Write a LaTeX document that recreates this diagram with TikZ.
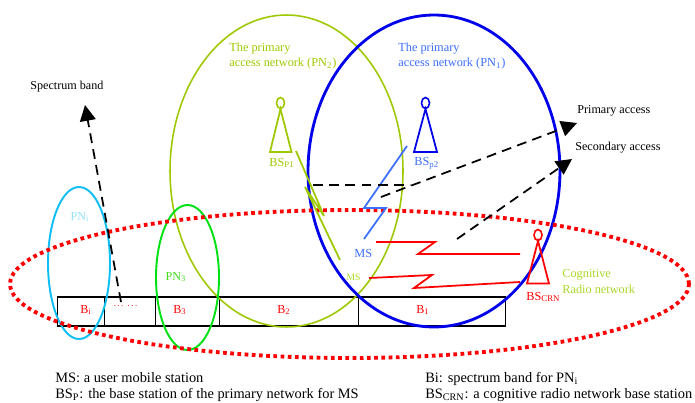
\documentclass[tikz,border=0pt]{standalone}
\usepackage{fontspec}
\setmainfont{Liberation Serif}
\usepackage{tikz}
\usetikzlibrary{arrows.meta, positioning, shapes.geometric}

\definecolor{olivenet}{RGB}{158,200,0}
\definecolor{bluenet}{RGB}{0,0,235}
\definecolor{skybolt}{RGB}{60,110,255}
\definecolor{cyannet}{RGB}{15,190,245}
\definecolor{greennet}{RGB}{0,225,20}
\definecolor{cogtext}{RGB}{170,215,40}

\begin{document}
\begin{tikzpicture}[
  x=0.02cm, y=-0.02cm,
  net/.style={ellipse, draw, inner sep=0pt, line width=1.1pt},
  cell/.style={rectangle, draw, line width=0.8pt, inner sep=0pt, minimum height=0.58cm},
  txt/.style={font=\fontsize{7}{8.8}\selectfont, inner sep=0pt, anchor=west},
  legend/.style={font=\fontsize{8.2}{9.2}\selectfont, inner sep=0pt, anchor=west},
  small/.style={font=\fontsize{6.9}{8}\selectfont, inner sep=0pt, anchor=west},
  access/.style={line width=1pt, dash pattern=on 5.6pt off 3.6pt},
  head/.style={access, -{Triangle[length=9pt, width=9pt]}},
  bolt/.style={line width=1pt},
  lamp/.style={ellipse, draw, line width=0.9pt, inner sep=0pt, minimum width=0.16cm, minimum height=0.22cm}
]
  \useasboundingbox (0,0) rectangle (695,402);

  % Spectrum band
  \node[cell, minimum width=0.94cm, anchor=west] (bi) at (57,311.5) {};
  \node[cell, minimum width=1.02cm, anchor=west] (bdots) at (104,311.5) {};
  \node[cell, minimum width=1.28cm, anchor=west] (b3) at (155,311.5) {};
  \node[cell, minimum width=2.78cm, anchor=west] (b2) at (219,311.5) {};
  \node[cell, minimum width=2.94cm, anchor=west] (b1) at (358,311.5) {};
  \node[small, red, anchor=center] (bilbl) at (86,310) {B\textsubscript{i}};
  \node[small, red, anchor=base] (dotslbl) at (125.5,306) {\fontsize{5}{6}\selectfont .\,.\,.\ \ .\,.\,.};
  \node[small, red, anchor=center] (b3lbl) at (180,310) {B\textsubscript{3}};
  \node[small, red, anchor=center] (b2lbl) at (284,310) {B\textsubscript{2}};
  \node[small, red, anchor=center] (b1lbl) at (423,310) {B\textsubscript{1}};

  % Networks
  \node[net, olivenet, line width=0.9pt, minimum width=4.66cm, minimum height=6.24cm] (pn2) at (286.5,171) {};
  \node[net, bluenet, line width=1.6pt, minimum width=5.04cm, minimum height=6.24cm] (pn1) at (434,171) {};
  \node[net, cyannet, minimum width=1.24cm, minimum height=3.04cm] (pni) at (79,263) {};
  \node[net, greennet, minimum width=1.26cm, minimum height=2.9cm] (pn3) at (187.5,277.5) {};
  \node[net, red, line width=2.2pt, dash pattern=on 2.1pt off 2pt, minimum width=13.58cm, minimum height=2.96cm] (crn) at (349.5,284) {};

  % Base stations
  \node[lamp, olivenet] (lampa) at (280.5,103) {};
  \coordinate (pa) at (280.5,109);
  \coordinate (pal) at (270,152);
  \coordinate (par) at (291.5,152);
  \draw[bolt, olivenet] (pa) -- (pal) -- (par) -- cycle;
  \node[lamp, bluenet] (lampb) at (425.5,103) {};
  \coordinate (pb) at (425.5,109);
  \coordinate (pbl) at (414,152);
  \coordinate (pbr) at (437,152);
  \draw[bolt, bluenet] (pb) -- (pbl) -- (pbr) -- cycle;
  \node[lamp, red] (lampc) at (538,235) {};
  \coordinate (pc) at (538,241);
  \coordinate (pcl) at (527,283.5);
  \coordinate (pcr) at (549,283.5);
  \draw[bolt, red] (pc) -- (pcl) -- (pcr) -- cycle;

  % Wireless links
  \coordinate (oa) at (296,151);
  \coordinate (ob) at (324,216);
  \coordinate (oc) at (305,187);
  \coordinate (od) at (340,260);
  \draw[bolt, olivenet] (oa) -- (ob) -- (oc) -- (od);
  \coordinate (sa) at (407,146);
  \coordinate (sb) at (364,208);
  \coordinate (sc) at (386,208);
  \coordinate (sd) at (364,239);
  \draw[bolt, skybolt] (sa) -- (sb) -- (sc) -- (sd);
  \coordinate (ra) at (376,242);
  \coordinate (rb) at (435,242);
  \coordinate (rc) at (418,254);
  \coordinate (rd) at (520,254);
  \draw[bolt, red] (ra) -- (rb) -- (rc) -- (rd);
  \coordinate (qa) at (369,278);
  \coordinate (qb) at (432,275);
  \coordinate (qc) at (414,288);
  \coordinate (qd) at (520,282);
  \draw[bolt, red] (qa) -- (qb) -- (qc) -- (qd);

  % Dashed arrows
  \coordinate (hl) at (313,185);
  \coordinate (hr) at (410,185);
  \coordinate (pfrom) at (381,197);
  \coordinate (pto) at (577,123);
  \coordinate (sfrom) at (457,239);
  \coordinate (sto) at (572,159);
  \coordinate (bfrom) at (121,302);
  \coordinate (bto) at (85,105);
  \draw[access] (hl) -- (hr);
  \draw[head] (pfrom) -- (pto);
  \draw[head] (sfrom) -- (sto);
  \draw[head] (bfrom) -- (bto);

  % Labels
  \node[txt, olivenet, align=left] (pn2lbl) at (229,56) {The primary\\access network (PN\textsubscript{2})};
  \node[txt, skybolt, align=left] (pn1lbl) at (398,56) {The primary\\access network (PN\textsubscript{1})};
  \node[small, black] (speclbl) at (30,87) {Spectrum band};
  \node[small, black] (primlbl) at (577,111) {Primary access};
  \node[small, black] (seclbl) at (575,148) {Secondary access};
  \node[small, cyannet!45, anchor=center] (pnilbl) at (80,217) {PN\textsubscript{i}};
  \node[small, greennet!60!cogtext, anchor=center] (pn3lbl) at (176,277) {PN\textsubscript{3}};
  \node[txt, olivenet] (bsa) at (269,163) {BS\textsubscript{P1}};
  \node[txt, skybolt] (bsb) at (414,163) {BS\textsubscript{p2}};
  \node[txt, red] (bsc) at (526,297) {BS\textsubscript{CRN}};
  \node[txt, skybolt] (msb) at (354,253) {MS};
  \node[font=\fontsize{5.5}{6}\selectfont, cogtext, inner sep=0pt] (msa) at (353.5,277) {MS};
  \node[txt, cogtext, align=left] (coglbl) at (562,281.5) {Cognitive\\Radio network};

  % Legend
  \node[legend, align=left] (legl) at (55,387) {MS: a user mobile station\\BS\textsubscript{P}: the base station of the primary network for MS};
  \node[legend, align=left] (legr) at (425,387) {Bi: spectrum band for PN\textsubscript{i}\\BS\textsubscript{CRN}: a cognitive radio network base station};
\end{tikzpicture}
\end{document}
